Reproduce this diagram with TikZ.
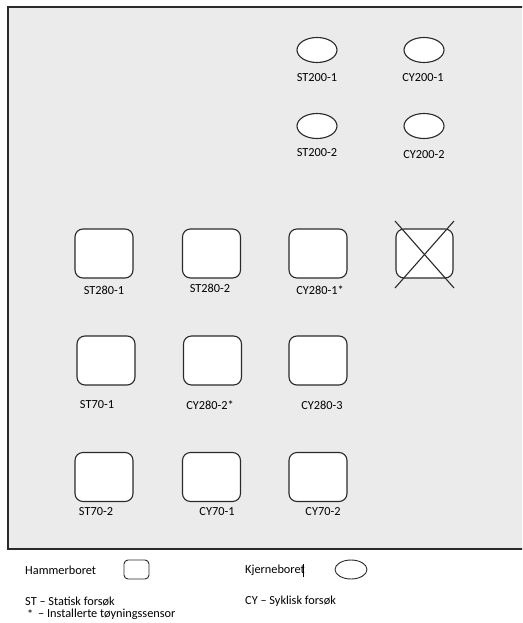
\documentclass[tikz,border=0pt]{standalone}
\usepackage{fontspec}
\setmainfont{Carlito}
\usetikzlibrary{shapes.geometric}
\definecolor{panelgray}{HTML}{EBEBEB}
\definecolor{edge}{HTML}{2A2A2A}
\begin{document}
\begin{tikzpicture}[x=1pt,y=-1pt,
  font=\fontsize{12.3}{14}\selectfont,
  hbox/.style={draw=edge,line width=1.1pt,fill=white,rounded corners=8pt,minimum width=58pt,minimum height=49pt,inner sep=0pt},
  kbox/.style={draw=edge,line width=1.1pt,fill=white,ellipse,minimum width=40pt,minimum height=25pt,inner sep=0pt},
  lbl/.style={inner sep=0pt,text=black},
  lw/.style={inner sep=0pt,anchor=west,text=black}]
\useasboundingbox (0,0) rectangle (522,623);
\begin{scope}
\clip (0,0) rectangle (522,623);
\draw[fill=panelgray,draw=edge,line width=1.3pt] (8,7) rectangle (530,549);
\end{scope}
% ellipses
\node[kbox] (e1) at (317,50) {};
\node[kbox] (e2) at (424,50) {};
\node[kbox] (e3) at (317,126) {};
\node[kbox] (e4) at (424,126) {};
\node[lbl] (le1) at (317,78) {ST200-1};
\node[lbl] (le2) at (423,78) {CY200-1};
\node[lbl] (le3) at (317,153) {ST200-2};
\node[lbl] (le4) at (424,155) {CY200-2};
% row 1
\node[hbox] (r1) at (104,253.5) {};
\node[hbox] (r2) at (211.5,253.5) {};
\node[hbox] (r3) at (318,253.5) {};
\node[hbox,minimum width=57pt] (r4) at (424.5,253.5) {};
\coordinate (x1) at (395,221);
\coordinate (x2) at (454,288);
\coordinate (x3) at (454,221);
\coordinate (x4) at (395,288);
\draw[edge,line width=1.1pt] (x1) -- (x2);
\draw[edge,line width=1.1pt] (x3) -- (x4);
\node[lbl] (lr1) at (104,290) {ST280-1};
\node[lbl] (lr2) at (210,288) {ST280-2};
\node[lbl] (lr3) at (320,290) {CY280-1*};
% row 2
\node[hbox] (r5) at (106,360.5) {};
\node[hbox] (r6) at (212.5,360.5) {};
\node[hbox] (r7) at (318,360.5) {};
\node[lbl] (lr5) at (97,405) {ST70-1};
\node[lbl] (lr6) at (210,405) {CY280-2*};
\node[lbl] (lr7) at (322,405) {CY280-3};
% row 3
\node[hbox] (r8) at (104,477) {};
\node[hbox] (r9) at (211.5,477) {};
\node[hbox] (r10) at (318,477) {};
\node[lbl] (lr8) at (96,512) {ST70-2};
\node[lbl] (lr9) at (217,512) {CY70-1};
\node[lbl] (lr10) at (323,512) {CY70-2};
% legend
\node[lw] (h) at (25,570) {Hammerboret};
\node[hbox,minimum width=25pt,minimum height=19pt,rounded corners=4pt,line width=0.9pt] (hs) at (136.5,569.5) {};
\node[lw] (k) at (245,570) {Kjerneboret};
\coordinate (c1) at ([xshift=-2pt,yshift=-7pt]k.east);
\coordinate (c2) at ([xshift=-2pt,yshift=6pt]k.east);
\draw[black,line width=0.8pt] (c1) -- (c2);
\node[kbox,minimum width=32pt,minimum height=19pt,line width=0.9pt] (ks) at (351,569.5) {};
\node[lw] (st) at (25,601) {ST -- Statisk forsøk};
\node[lw] (cy) at (245,601) {CY -- Syklisk forsøk};
\node[lw] (star) at (27,614) {*};
\node[lw] (inst) at (38,614) {-- Installerte tøyningssensor};
\end{tikzpicture}
\end{document}
